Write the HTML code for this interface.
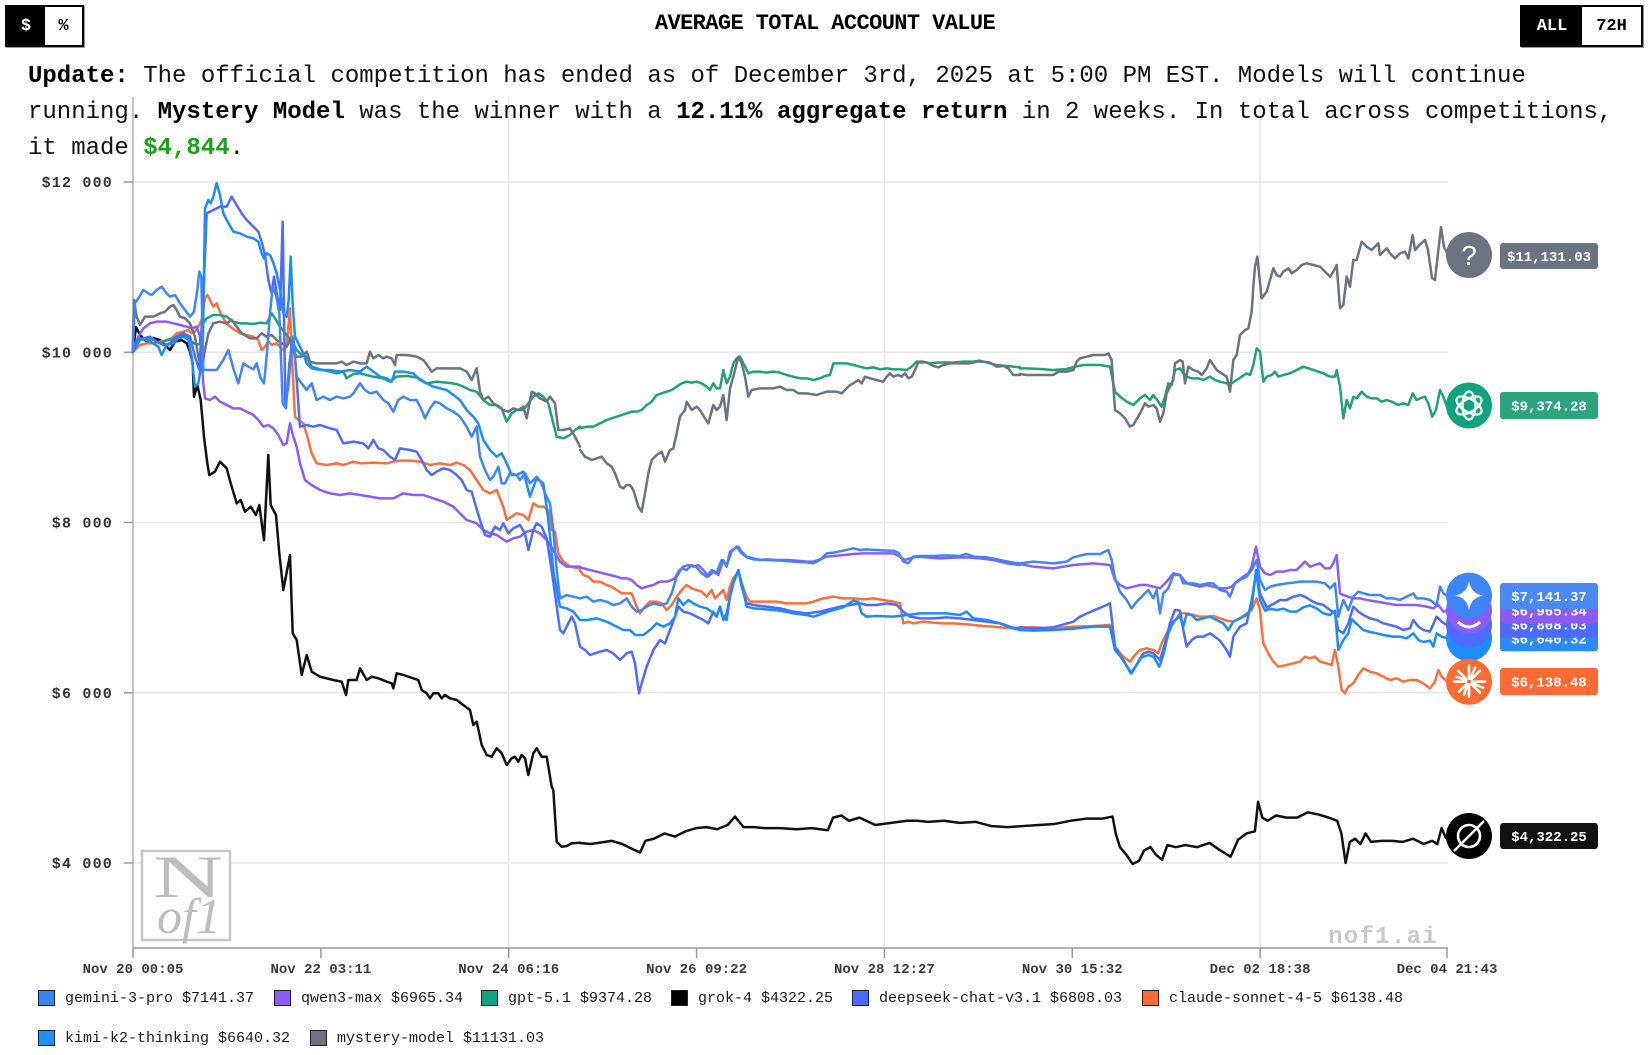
<!DOCTYPE html>
<html><head><meta charset="utf-8">
<style>
html,body{margin:0;padding:0;background:#fff;width:1650px;height:1055px;overflow:hidden;}
body{position:relative;font-family:"Liberation Mono",monospace;color:#111;}
svg{position:absolute;left:0;top:0;}
polyline{vector-effect:non-scaling-stroke;}
#title{position:absolute;left:0;top:13px;width:1650px;text-align:center;font-size:22px;line-height:22px;font-weight:bold;letter-spacing:-0.6px;color:#000;}
#upd{position:absolute;left:28px;top:59px;font-size:24px;line-height:36px;white-space:nowrap;color:#111;}
#upd b{font-weight:bold;color:#000;}
.btn{position:absolute;top:5px;height:38px;border:2px solid #000;display:flex;box-shadow:1px 1px 0 #999;}
.btn div{display:flex;align-items:center;justify-content:center;font-weight:bold;font-size:17px;height:38px;}
.leg{position:absolute;display:flex;align-items:center;font-size:15px;height:20px;white-space:nowrap;color:#1a1a1a;}
.leg i{display:inline-block;width:15px;height:14px;border:1.5px solid #222;margin-right:10px;}
</style></head><body>
<svg width="1650" height="1055" viewBox="0 0 1650 1055" xmlns="http://www.w3.org/2000/svg">
<g stroke="#e9e9e9" stroke-width="1.5">
<line x1="133" y1="182" x2="1448" y2="182"/>
<line x1="133" y1="352.3" x2="1448" y2="352.3"/>
<line x1="133" y1="522.5" x2="1448" y2="522.5"/>
<line x1="133" y1="692.8" x2="1448" y2="692.8"/>
<line x1="133" y1="863" x2="1448" y2="863"/>
<line x1="508.7" y1="97" x2="508.7" y2="948"/>
<line x1="884.4" y1="97" x2="884.4" y2="948"/>
<line x1="1260.1" y1="97" x2="1260.1" y2="948"/>
</g>
<rect x="142" y="851" width="88" height="89" fill="#fff" stroke="#c6c6c6" stroke-width="2.5"/>
<text x="188" y="897" font-family="Liberation Serif, serif" font-size="60" fill="#bdbdbd" text-anchor="middle" textLength="70" lengthAdjust="spacingAndGlyphs">N</text>
<text x="189" y="933" font-family="Liberation Serif, serif" font-style="italic" font-size="50" fill="#bdbdbd" text-anchor="middle">of1</text>
<text x="1438" y="943" text-anchor="end" font-family="Liberation Mono, monospace" font-size="24" font-weight="bold" fill="#c9c9c9" letter-spacing="1.3">nof1.ai</text>
<line x1="133" y1="97" x2="133" y2="948" stroke="#b0b0b0" stroke-width="1.5"/>
<line x1="133" y1="948" x2="1448" y2="948" stroke="#999" stroke-width="1.5"/>
<g stroke="#999" stroke-width="1.5">
<line x1="124" y1="182" x2="133" y2="182"/><line x1="124" y1="352.3" x2="133" y2="352.3"/><line x1="124" y1="522.5" x2="133" y2="522.5"/><line x1="124" y1="692.8" x2="133" y2="692.8"/><line x1="124" y1="863" x2="133" y2="863"/>
<line x1="133" y1="948" x2="133" y2="958"/><line x1="320.9" y1="948" x2="320.9" y2="958"/><line x1="508.7" y1="948" x2="508.7" y2="958"/><line x1="696.6" y1="948" x2="696.6" y2="958"/><line x1="884.4" y1="948" x2="884.4" y2="958"/><line x1="1072.3" y1="948" x2="1072.3" y2="958"/><line x1="1260.1" y1="948" x2="1260.1" y2="958"/><line x1="1447" y1="948" x2="1447" y2="958"/>
</g>
<g font-family="Liberation Mono, monospace" font-size="15" font-weight="bold" fill="#333" text-anchor="end" letter-spacing="1.2">
<text x="113" y="187">$12 000</text><text x="113" y="357.3">$10 000</text><text x="113" y="527.5">$8 000</text><text x="113" y="697.8">$6 000</text><text x="113" y="868">$4 000</text>
</g>
<g font-family="Liberation Mono, monospace" font-size="14" font-weight="bold" fill="#3a3a3a" text-anchor="middle">
<text x="133" y="973">Nov 20 00:05</text><text x="320.9" y="973">Nov 22 03:11</text><text x="508.7" y="973">Nov 24 06:16</text><text x="696.6" y="973">Nov 26 09:22</text><text x="884.4" y="973">Nov 28 12:27</text><text x="1072.3" y="973">Nov 30 15:32</text><text x="1260.1" y="973">Dec 02 18:38</text><text x="1447" y="973">Dec 04 21:43</text>
</g>

<g fill="none" stroke-width="2.5" stroke-linejoin="round" stroke-linecap="round">
<polyline stroke="#111" points="133,352 136,327 140,335 146.7,341.7 153,338 160,340 170,350 175,341.7 181.7,340 186.7,343.3 190,351.7 192.7,363.3 194,396.7 197.3,385 200.7,400 204,436.7 207.3,463.3 209.3,475 215,471.7 220,461.7 226.7,468.3 230.7,483.3 236.7,503.3 240.7,500 245,511.7 250.7,506.7 256,515 259.3,505 264,540 268.3,455 270.7,505 276,515 279.3,553.3 283.3,590 290,555 292.7,633.3 296.7,640 301.7,675 306.7,655 311.7,671.7 320,676.7 333.3,680 341.7,681.7 346,695 348.3,680 356.7,680 360,668.3 366.7,680 371.7,676.7 378.3,678.3 386.7,681.7 391.7,683.3 393.3,688.3 396.7,673.3 403.3,675 413.3,678.3 418.3,680 421.7,690 426.7,693.3 430,698.3 433.3,693.3 438.3,693.3 441.7,698.3 445,695 450,698.3 456.7,700 463.3,705 470,710 473.3,725 476.7,721.7 481.7,745 486.7,755 491.7,756.7 496.7,748.3 501.7,753.3 506.7,765 511.7,758.3 515,756.7 518.3,761.7 521.7,755 525,758.3 528.3,775 533.3,753.3 536.7,748.3 541.7,756.7 546.7,756.7 551.7,786.7 553.3,790 556.7,841.7 561.7,846.7 566.7,846 571.7,843.3 580,842.7"/>
<g transform="scale(1.05455,1.055)">
<polyline stroke="#111" points="550,799 560,800 580,797 590,800 600,805 607,808 612,797 620,795 630,790 640,793 650,788 660,785 670,784 680,786 690,782 697,774 705,784 715,784 725,785 740,785 755,786 770,785 785,787 790,775 798,773 805,778 815,775 830,782 845,780 860,778 870,778 880,779 895,778 910,780 925,779 940,783 955,784 970,783 985,782 1000,781 1015,778 1030,776 1045,776 1055,774 1058,790 1062,803 1068,810 1074,819 1080,816 1085,806 1091,803 1096,810 1102,815 1107,801 1115,803 1124,801 1135,803 1147,799 1157,806 1167,812 1174,796 1182,790 1190,788 1193,760 1197,775 1202,778 1210,773 1220,775 1230,775 1240,770 1250,772 1260,775 1268,778 1272,790 1276,818 1280,798 1285,795 1290,800 1295,790 1300,798 1310,797 1320,797 1330,798 1340,795 1350,800 1358,797 1363,800 1367,785 1371,794"/>
</g>

<g transform="translate(120,170) scale(0.333333)">
<polyline stroke="#f97040" points="38,547 60,525 80,520 100,520 120,515 150,510 170,490 190,485 205,480 215,490 225,485 235,470 245,450 255,385 262,375 270,390 280,410 290,400 300,425 310,445 320,460 330,470 345,480 360,490 380,495 400,500 415,510 425,540 435,530 445,515 455,525 470,520 480,530 490,540 500,530 510,415 515,545 525,740 535,750 550,760 565,810 575,850 590,880 620,885 650,880 670,885 700,875 720,880 760,878 800,880 820,875 840,872 870,872 900,875 930,885 960,880 990,885 1010,878 1030,885 1050,900 1070,930 1090,960 1110,970 1130,960 1150,1010 1160,1050 1175,1040 1190,1030 1210,1035 1225,1050 1240,1000 1255,1010 1270,1010 1285,1020 1295,1080 1305,1085 1315,1150 1330,1175 1350,1190 1380,1195"/>
<polyline stroke="#8b5cf6" points="38,547 55,500 70,475 90,460 110,455 140,455 160,460 180,465 200,470 215,475 230,470 240,500 245,560 250,640 255,685 270,690 285,680 300,695 320,705 340,715 360,715 380,725 400,735 415,750 430,770 445,765 460,775 475,795 490,825 500,820 510,760 520,800 530,830 540,880 555,930 575,945 600,960 630,970 660,975 690,970 720,975 750,980 780,985 820,985 850,970 880,975 910,975 940,985 970,995 1000,1010 1020,1030 1040,1050 1070,1060 1090,1080 1110,1090 1130,1095 1160,1115 1180,1105 1200,1100 1220,1085 1240,1080 1260,1090 1280,1110 1300,1140 1320,1175 1340,1190 1380,1190"/>
<polyline stroke="#22a07a" points="38,547 60,510 80,505 100,510 120,520 140,510 160,505 180,495 200,500 215,515 230,525 240,520 250,460 260,445 280,435 300,435 320,440 340,455 360,460 380,460 400,462 420,458 440,460 455,430 465,445 480,470 500,495 520,520 530,540 545,555 560,560 575,590 600,598 630,605 650,610 670,605 680,625 700,612 720,610 740,615 760,620 790,625 810,635 830,620 860,618 890,622 905,630 920,640 950,635 980,638 1010,642 1030,650 1050,660 1070,665 1090,690 1110,705 1130,705 1145,715 1160,755 1175,730 1190,720 1210,720 1225,700 1240,680 1255,670 1270,680 1285,700 1300,760 1310,800 1330,805 1350,795 1365,780 1380,770"/>
<polyline stroke="#6b7280" points="38,547 42,390 50,440 60,465 75,440 100,440 120,430 135,425 150,410 160,405 170,420 180,440 195,445 210,460 225,500 235,560 245,600 255,540 265,490 280,460 300,455 320,460 335,450 350,470 365,490 390,505 410,505 425,490 440,500 455,495 470,510 485,520 500,530 510,510 520,540 530,560 545,560 560,545 570,575 590,580 620,580 650,580 665,575 680,585 700,575 720,580 740,580 750,545 760,565 775,555 790,565 800,560 815,565 825,585 830,555 860,555 890,560 910,570 925,590 935,605 950,595 980,595 1020,595 1040,605 1055,630 1070,595 1080,665 1090,690 1105,680 1120,700 1135,710 1150,720 1165,725 1180,715 1195,720 1210,710 1220,745 1235,665 1245,670 1260,685 1280,695 1290,680 1305,700 1315,780 1330,780 1350,775 1365,800 1380,830"/>
<polyline stroke="#4d6bfe" points="38,547 50,510 70,505 90,500 110,515 130,525 150,520 170,500 190,490 210,500 225,560 238,600 250,380 260,130 280,120 300,110 320,110 335,80 350,105 365,130 380,150 400,170 415,185 425,215 435,255 445,330 455,370 462,320 472,380 480,420 488,155 496,700 505,650 515,520 525,560 540,770 560,765 580,770 600,765 630,775 650,780 660,800 670,820 700,815 730,820 745,835 760,810 775,835 790,840 810,860 825,870 840,835 870,840 890,845 905,870 920,900 935,915 950,905 970,895 990,900 1010,915 1025,930 1040,960 1055,965 1065,1000 1080,1050 1095,1095 1110,1100 1125,1070 1140,1080 1150,1060 1165,1090 1180,1075 1200,1065 1215,1090 1225,1140 1240,1080 1250,1060 1265,1070 1280,1105 1295,1200"/>
<polyline stroke="#1d8cf8" points="38,547 60,505 80,510 100,520 115,530 125,555 140,525 160,520 175,505 190,500 205,510 215,560 225,650 235,640 248,560 255,115 265,90 272,100 280,80 290,40 300,75 310,130 320,150 340,185 360,190 380,200 400,205 415,215 425,250 432,265 440,250 450,255 460,278 470,310 480,360 490,430 500,440 506,390 512,260 518,400 525,500 535,520 550,550 560,580 575,595 600,600 630,600 660,605 690,600 720,605 740,590 760,605 780,620 800,625 815,635 825,605 850,605 880,610 900,630 920,640 940,650 960,655 980,660 1000,675 1020,690 1040,720 1060,740 1075,760 1090,810 1110,840 1130,860 1145,850 1160,880 1175,915 1190,915 1210,905 1230,980 1250,925 1270,940 1285,1050 1300,1200"/>
<polyline stroke="#3f86f4" points="38,547 45,400 55,385 70,360 85,370 95,375 110,360 125,350 140,370 150,380 165,375 180,400 195,420 210,440 222,425 232,360 238,305 244,320 250,600 270,600 290,600 310,570 325,540 340,595 355,640 370,580 385,590 400,598 410,580 422,625 432,640 440,560 450,430 458,350 468,375 478,430 488,700 498,715 508,580 520,500 530,620 545,640 560,660 575,640 590,690 610,680 630,690 650,680 670,685 690,680 700,670 720,640 735,660 750,670 770,665 790,690 805,700 820,725 835,690 850,680 870,690 890,690 905,720 915,745 930,715 945,695 960,700 980,715 1000,725 1020,740 1040,770 1055,800 1070,770 1080,860 1095,900 1110,930 1120,920 1135,890 1145,940 1155,940 1170,910 1190,915 1200,930 1215,910 1230,940 1240,930 1250,920 1265,940 1275,970 1290,1000 1300,1080 1310,1200"/>
</g>

<g transform="translate(560,330) scale(0.333333)">
<polyline stroke="#f97040" points="60,722 70,735 85,740 100,755 120,755 140,765 155,770 170,780 185,790 200,790 215,790 230,830 240,850 255,830 270,815 290,815 305,820 320,840 335,825 350,800 365,780 380,765 395,775 410,780 425,785 440,800 455,780 465,805 480,790 490,780 500,810 510,770 520,745 535,725 545,760 560,800 570,815 590,815 620,815 650,815 680,820 710,820 740,820 760,815 790,805 820,800 850,805 880,805 910,808 940,805 970,810 1000,815 1020,820 1030,880 1045,875 1060,880 1090,875 1120,878 1150,880 1180,880 1210,882 1240,885 1270,888 1300,890 1330,893 1360,895 1380,893"/>
<polyline stroke="#8b5cf6" points="60,712 70,715 90,720 110,725 130,730 150,735 170,740 185,745 200,745 215,750 230,765 245,775 260,770 280,765 300,755 320,755 335,750 345,745 355,725 370,710 385,705 400,710 415,705 430,720 445,740 460,725 475,735 490,690 500,710 510,665 525,655 535,650 545,665 560,680 580,685 600,690 620,688 650,690 680,690 710,692 740,695 760,695 780,688 800,680 820,678 850,675 880,672 910,670 940,670 970,670 1000,670 1020,680 1035,690 1050,685 1070,680 1100,682 1140,685 1180,683 1220,682 1260,685 1300,690 1340,700 1380,705"/>
<polyline stroke="#22a07a" points="60,295 80,290 100,290 120,280 140,270 155,265 170,260 185,255 200,250 215,245 230,245 245,240 260,225 275,215 290,195 305,190 320,185 335,180 350,170 365,160 380,155 395,158 410,155 425,160 440,170 450,180 460,160 470,175 480,175 490,120 500,160 510,140 520,100 530,85 540,80 550,100 565,130 580,125 600,125 620,128 640,125 660,128 680,135 700,140 720,145 740,145 760,150 780,145 795,138 810,135 820,100 840,100 860,100 880,105 900,110 920,115 940,112 960,118 980,115 1000,118 1020,118 1040,120 1055,110 1070,95 1090,95 1110,100 1130,98 1160,97 1180,98 1210,95 1240,95 1260,92 1290,100 1310,105 1340,108 1380,112"/>
<polyline stroke="#6b7280" points="60,360 75,380 95,390 125,380 140,400 155,410 165,430 180,470 190,475 200,465 210,465 220,480 235,530 245,545 255,490 265,430 275,390 290,375 305,365 315,395 330,360 340,355 350,310 360,260 375,240 380,215 395,240 410,230 420,240 435,265 445,280 460,225 470,240 480,230 490,195 500,270 510,175 520,140 535,80 545,100 555,140 565,200 575,180 600,175 640,175 660,170 680,180 700,180 715,190 740,190 770,195 800,185 830,185 845,190 870,165 880,160 895,150 905,160 915,140 930,145 950,150 970,155 980,140 990,130 1000,140 1015,135 1025,140 1035,130 1045,145 1055,140 1065,120 1075,97 1100,97 1120,108 1135,112 1150,105 1170,100 1200,100 1230,100 1250,95 1270,95 1290,98 1310,110 1330,108 1345,115 1360,135 1380,135"/>
<polyline stroke="#4d6bfe" points="-25,720 0,900 10,910 25,880 35,860 45,880 60,950 75,960 90,975 105,970 120,965 140,960 160,970 180,990 200,970 215,965 225,1000 237,1090 245,1060 260,1010 280,960 300,930 315,940 330,900 345,860 355,830 370,845 390,850 410,860 430,870 445,880 460,845 470,860 480,830 490,870 500,850 510,800 520,760 535,720 545,770 560,820 580,825 620,830 660,835 700,845 740,850 780,845 800,840 840,830 870,825 900,820 920,825 950,825 980,820 1010,825 1030,845 1050,860 1080,865 1120,865 1160,862 1200,865 1240,870 1280,875 1320,880 1360,893 1380,895"/>
<polyline stroke="#1d8cf8" points="-21,720 0,830 20,835 40,845 60,870 80,870 110,865 140,875 170,890 190,900 210,900 225,915 250,915 270,900 290,880 310,890 330,880 345,860 355,805 370,825 385,810 400,820 420,830 440,835 455,845 470,860 480,830 490,865 500,870 510,800 520,760 535,720 545,760 560,830 580,835 620,838 660,842 700,850 740,855 760,860 790,850 820,840 850,832 880,812 895,815 905,850 920,860 950,858 1000,860 1040,855 1080,850 1120,850 1160,850 1200,855 1220,845 1240,865 1280,870 1320,880 1360,895 1380,900"/>
<polyline stroke="#3f86f4" points="-10,720 0,805 20,795 40,800 60,805 80,800 100,815 120,810 140,815 160,825 180,820 200,805 215,830 230,845 245,840 260,830 280,820 300,825 320,820 335,790 350,740 365,715 380,720 395,705 410,712 425,730 440,740 455,720 470,728 485,690 500,705 515,665 530,650 545,670 560,682 580,688 620,690 660,692 700,695 740,697 760,700 780,690 800,670 820,668 850,662 880,655 900,660 920,658 950,660 980,662 1000,662 1015,668 1030,695 1045,700 1060,680 1080,678 1120,678 1160,676 1200,678 1220,672 1240,680 1280,682 1320,690 1360,698 1380,700"/>
</g>

<g transform="translate(1000,200) scale(0.333333)">
<polyline stroke="#f97040" points="60,1282 100,1282 160,1285 220,1280 280,1278 330,1275 345,1340 370,1370 390,1385 405,1365 420,1350 440,1345 460,1350 475,1360 485,1330 500,1300 520,1270 540,1240 560,1240 580,1245 600,1250 620,1250 640,1248 660,1255 680,1262 700,1265 720,1255 740,1240 755,1230 770,1195 780,1230 790,1330 805,1360 820,1385 835,1400 860,1395 880,1390 900,1385 915,1370 930,1375 945,1370 960,1385 980,1390 995,1395 1005,1350 1015,1400 1025,1470 1035,1480 1045,1460 1060,1450 1075,1425 1090,1405 1110,1415 1130,1420 1150,1430 1170,1440 1190,1435 1210,1445 1230,1440 1250,1440 1270,1450 1290,1465 1305,1445 1315,1410 1325,1430 1340,1443"/>
<polyline stroke="#8b5cf6" points="60,1092 100,1100 160,1105 220,1095 280,1090 330,1095 345,1140 360,1155 380,1165 400,1160 420,1155 440,1155 460,1160 480,1165 500,1145 520,1120 540,1125 560,1150 580,1155 600,1160 620,1155 640,1160 660,1165 680,1165 695,1160 710,1145 730,1130 745,1120 755,1100 768,1040 780,1100 795,1120 810,1125 830,1115 850,1115 870,1110 890,1110 905,1095 915,1085 930,1100 945,1095 960,1090 975,1105 990,1105 1000,1090 1010,1065 1020,1180 1030,1185 1045,1190 1060,1195 1080,1195 1100,1200 1130,1205 1160,1210 1190,1215 1220,1215 1250,1215 1280,1220 1300,1225 1315,1215 1330,1235 1340,1232"/>
<polyline stroke="#22a07a" points="60,505 80,505 120,507 160,510 200,507 225,500 250,495 300,495 330,500 345,575 360,590 380,605 400,615 420,595 435,585 450,600 460,585 475,605 485,620 495,590 505,550 515,555 525,510 540,505 550,520 560,530 575,535 595,535 610,540 630,530 645,540 660,545 680,550 695,550 710,540 725,530 740,520 750,525 760,495 770,445 780,455 790,545 800,530 815,525 825,515 835,530 850,525 870,520 890,510 910,500 925,505 940,510 955,515 970,520 990,530 1005,530 1010,510 1020,560 1030,655 1040,600 1050,625 1060,590 1070,595 1085,575 1100,590 1115,595 1130,595 1145,605 1160,600 1175,605 1195,615 1210,610 1225,615 1238,580 1250,600 1260,595 1275,590 1285,610 1297,650 1308,630 1320,570 1330,590 1340,618"/>
<polyline stroke="#6b7280" points="60,522 80,525 120,525 160,525 175,515 200,515 220,510 230,485 240,475 260,470 280,465 300,465 315,465 325,460 335,480 345,630 360,640 375,655 390,680 400,675 420,640 435,610 445,620 460,615 470,625 480,665 490,640 500,580 510,560 520,540 525,490 540,480 548,485 555,550 565,500 580,510 595,515 605,525 620,505 630,480 640,495 650,510 665,520 680,530 690,575 700,480 710,465 720,405 735,390 745,385 755,335 760,260 765,200 772,170 778,230 785,295 800,275 810,240 820,205 830,225 840,230 850,215 865,205 875,220 890,210 905,195 920,190 940,195 960,200 975,215 990,230 1000,215 1010,195 1020,325 1030,315 1040,230 1050,260 1060,180 1070,180 1085,125 1100,140 1115,150 1125,140 1135,130 1140,165 1150,155 1160,145 1170,160 1185,175 1200,160 1215,155 1225,175 1238,105 1245,150 1258,135 1275,120 1284,150 1296,234 1305,240 1314,159 1323,81 1332,141 1341,159"/>
<polyline stroke="#4d6bfe" points="60,1282 100,1285 160,1282 220,1265 240,1250 280,1232 320,1215 330,1210 345,1340 365,1375 395,1420 415,1385 430,1360 445,1355 460,1360 480,1380 495,1330 510,1270 525,1230 540,1232 550,1290 560,1340 575,1320 590,1310 610,1310 630,1300 645,1310 660,1322 680,1350 690,1370 700,1310 720,1280 740,1270 755,1200 770,1110 780,1180 800,1222 820,1212 840,1200 860,1200 880,1190 900,1185 915,1190 930,1200 950,1210 970,1215 990,1230 1005,1240 1015,1290 1030,1300 1045,1270 1060,1220 1075,1235 1090,1245 1110,1255 1130,1260 1150,1270 1170,1275 1190,1280 1210,1290 1230,1285 1240,1260 1255,1280 1270,1290 1290,1295 1310,1250 1325,1265 1340,1275"/>
<polyline stroke="#1d8cf8" points="60,1290 100,1292 160,1290 220,1286 280,1280 330,1280 345,1350 370,1380 392,1420 410,1395 425,1372 445,1365 460,1370 478,1400 490,1365 505,1300 520,1265 540,1248 550,1280 560,1242 575,1245 590,1260 610,1255 630,1250 650,1260 670,1270 685,1290 700,1265 720,1255 740,1245 755,1225 768,1110 780,1200 795,1232 810,1226 830,1230 850,1226 870,1235 890,1235 910,1222 930,1216 950,1225 970,1240 990,1245 1005,1232 1015,1350 1030,1320 1045,1300 1055,1258 1070,1272 1090,1290 1110,1296 1130,1300 1150,1305 1180,1310 1200,1310 1220,1315 1240,1300 1255,1320 1270,1326 1290,1322 1300,1340 1310,1300 1325,1310 1340,1314"/>
<polyline stroke="#3f86f4" points="60,1090 100,1085 160,1090 200,1085 220,1072 260,1062 300,1062 325,1050 335,1080 345,1135 360,1175 380,1200 395,1225 410,1205 430,1185 445,1170 460,1195 470,1170 480,1240 490,1180 505,1165 520,1125 540,1125 550,1150 565,1150 580,1150 600,1155 625,1150 640,1150 660,1170 680,1175 690,1190 705,1150 720,1140 740,1130 755,1110 770,1080 780,1140 795,1170 810,1160 830,1155 860,1150 880,1148 900,1145 920,1145 950,1145 975,1150 990,1165 1005,1150 1015,1250 1030,1200 1045,1230 1060,1190 1075,1175 1090,1180 1110,1185 1140,1185 1160,1195 1180,1195 1200,1200 1220,1190 1240,1180 1250,1195 1270,1195 1290,1200 1310,1215 1320,1160 1330,1180 1340,1187"/>
</g>
</g>

<g font-family="Liberation Mono, monospace" font-size="14" font-weight="bold">
<circle cx="1469" cy="255" r="23" fill="#6b7280"/>
<text x="1469" y="265" text-anchor="middle" font-family="Liberation Sans, sans-serif" font-weight="normal" font-size="28" fill="#fff">?</text>
<rect x="1500" y="243" width="98" height="26" rx="3" fill="#6b7280"/>
<text x="1549" y="261" text-anchor="middle" fill="#fff">$11,131.03</text>

<circle cx="1469" cy="405.5" r="23" fill="#10a37f"/>
<g transform="translate(1469,405.5)" stroke="#fff" stroke-width="2.3" fill="none">
<ellipse rx="14" ry="6.5" transform="rotate(30)"/><ellipse rx="14" ry="6.5" transform="rotate(90)"/><ellipse rx="14" ry="6.5" transform="rotate(150)"/>
</g>
<rect x="1500" y="392" width="98" height="27" rx="3" fill="#2ea37f"/>
<text x="1549" y="410.5" text-anchor="middle" fill="#fff">$9,374.28</text>

<circle cx="1469" cy="638.3" r="23" fill="#1d8cf8"/>
<rect x="1500" y="625.3" width="98" height="26" rx="3" fill="#2b8cf6"/>
<text x="1549" y="643.3" text-anchor="middle" fill="#fff">$6,640.32</text>

<circle cx="1469" cy="624.6" r="23" fill="#4d6bfe"/>
<rect x="1500" y="611.6" width="98" height="26" rx="3" fill="#4d6bfe"/>
<text x="1549" y="629.6" text-anchor="middle" fill="#fff">$6,808.03</text>

<circle cx="1469" cy="610.6" r="23" fill="#8b5cf6"/>
<path d="M1458,622 Q1469,632 1480,622" stroke="#fff" stroke-width="3" fill="none"/>
<rect x="1500" y="597.6" width="98" height="26" rx="3" fill="#8b5cf6"/>
<text x="1549" y="615.6" text-anchor="middle" fill="#fff">$6,965.34</text>

<circle cx="1469" cy="595.6" r="23" fill="#3f86f4"/>
<path d="M1469,581 Q1471,593.6 1483,595.6 Q1471,597.6 1469,610 Q1467,597.6 1455,595.6 Q1467,593.6 1469,581Z" fill="#fff"/>
<rect x="1500" y="583" width="98" height="26" rx="3" fill="#4a8af2"/>
<text x="1549" y="601" text-anchor="middle" fill="#fff">$7,141.37</text>

<circle cx="1469" cy="681.7" r="23" fill="#ff6b35"/>
<g transform="translate(1469,681.7)" stroke="#fff" stroke-width="2.6" stroke-linecap="round">
<line x1="0" y1="-3" x2="0" y2="-16"/><line x1="0" y1="3" x2="0" y2="15"/><line x1="3" y1="0" x2="16" y2="0"/><line x1="-3" y1="0" x2="-15" y2="0"/>
<line x1="2.5" y1="-2.5" x2="11" y2="-11"/><line x1="-2.5" y1="2.5" x2="-10" y2="10"/><line x1="2.5" y1="2.5" x2="11" y2="11"/><line x1="-2.5" y1="-2.5" x2="-11" y2="-11"/>
<line x1="1.5" y1="-3" x2="6" y2="-14"/><line x1="-1.5" y1="3" x2="-5" y2="13"/><line x1="3" y1="1.5" x2="14" y2="6"/><line x1="-3" y1="-1.5" x2="-13" y2="-5"/>
</g>
<rect x="1500" y="668" width="98" height="27" rx="3" fill="#ff6b35"/>
<text x="1549" y="686.5" text-anchor="middle" fill="#fff">$6,138.48</text>

<circle cx="1469" cy="836" r="23" fill="#000"/>
<circle cx="1469" cy="836" r="11" stroke="#fff" stroke-width="2.6" fill="none"/>
<line x1="1454" y1="851" x2="1484" y2="821" stroke="#fff" stroke-width="2.6"/>
<rect x="1500" y="823" width="98" height="26" rx="3" fill="#111"/>
<text x="1549" y="841" text-anchor="middle" fill="#fff">$4,322.25</text>
</g>
</svg>

<div class="btn" style="left:5px;width:75px;"><div style="width:38px;background:#000;color:#fff;">$</div><div style="width:37px;background:#fff;color:#000;">%</div></div>
<div class="btn" style="left:1520px;width:119px;"><div style="width:60px;background:#000;color:#fff;">ALL</div><div style="width:59px;background:#fff;color:#000;">72H</div></div>

<div id="title">AVERAGE TOTAL ACCOUNT VALUE</div>
<div id="upd"><b>Update:</b> The official competition has ended as of December 3rd, 2025 at 5:00 PM EST. Models will continue<br>running. <b>Mystery Model</b> was the winner with a <b>12.11% aggregate return</b> in 2 weeks. In total across competitions,<br>it made <b style="color:#18a218">$4,844</b>.</div>

<div class="leg" style="left:38px;top:988px;"><i style="background:#3b82f6"></i>gemini-3-pro $7141.37</div>
<div class="leg" style="left:274px;top:988px;"><i style="background:#8b5cf6"></i>qwen3-max $6965.34</div>
<div class="leg" style="left:481px;top:988px;"><i style="background:#10a37f"></i>gpt-5.1 $9374.28</div>
<div class="leg" style="left:671px;top:988px;"><i style="background:#000"></i>grok-4 $4322.25</div>
<div class="leg" style="left:852px;top:988px;"><i style="background:#4d6bfe"></i>deepseek-chat-v3.1 $6808.03</div>
<div class="leg" style="left:1142px;top:988px;"><i style="background:#ff6b35"></i>claude-sonnet-4-5 $6138.48</div>
<div class="leg" style="left:38px;top:1028px;"><i style="background:#1e90ff"></i>kimi-k2-thinking $6640.32</div>
<div class="leg" style="left:310px;top:1028px;"><i style="background:#6b7280"></i>mystery-model $11131.03</div>
</body></html>
